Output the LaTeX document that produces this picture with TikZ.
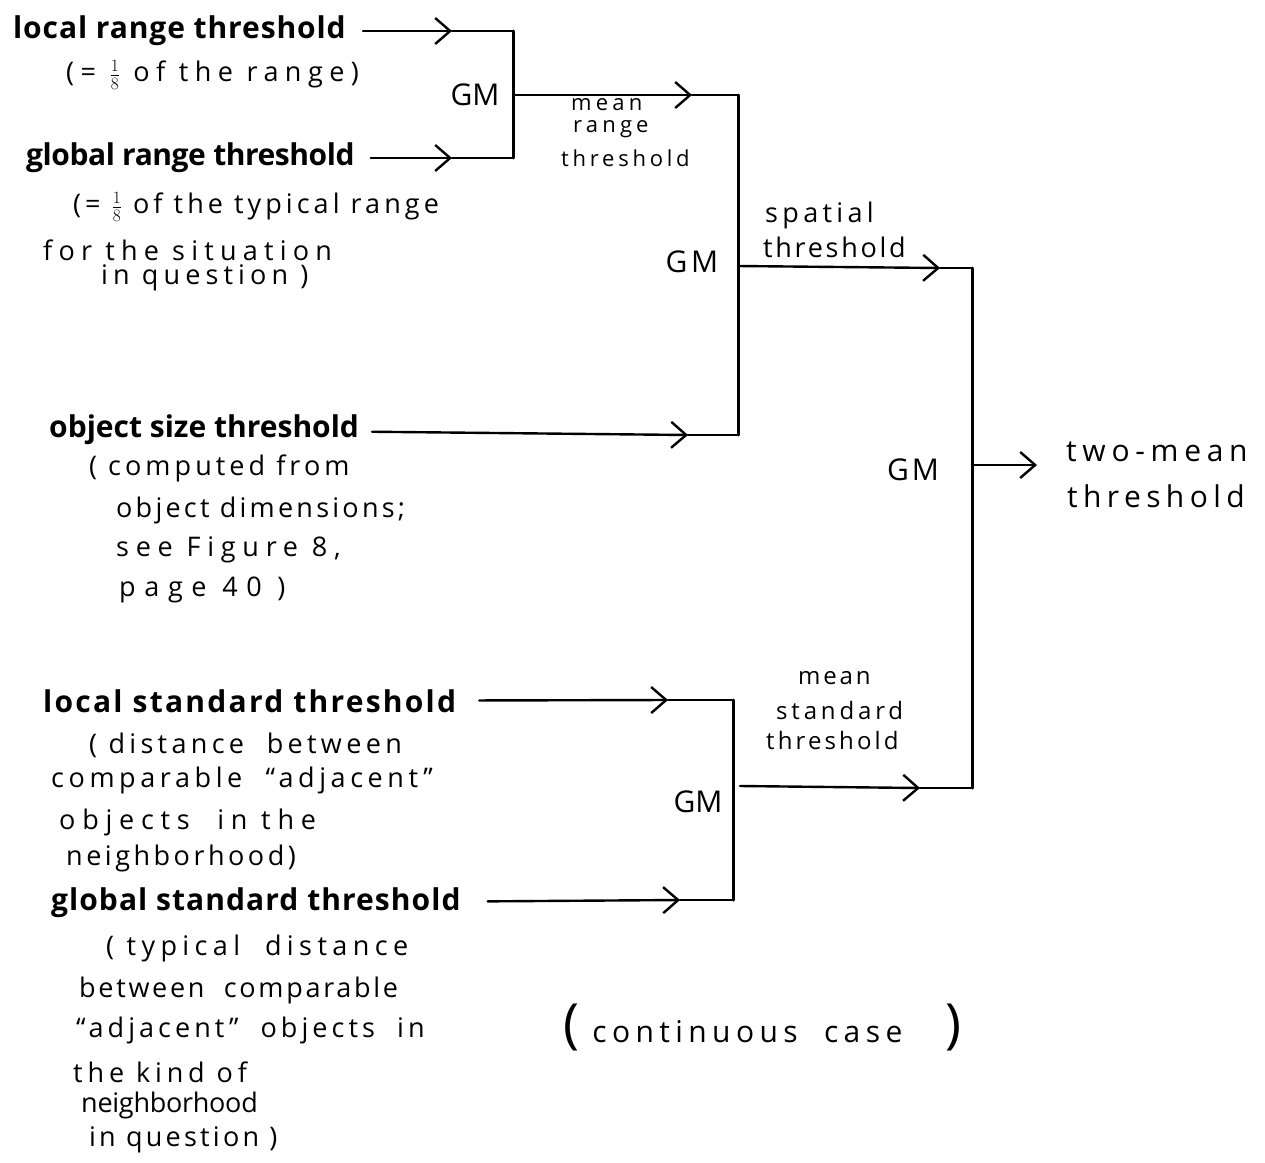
\documentclass[tikz,border=0pt]{standalone}
\usepackage{fontspec}
\setmainfont{Open Sans}
\usetikzlibrary{arrows.meta}
\begin{document}
\begin{tikzpicture}[x=1pt,y=-1pt,line width=2.4pt,line cap=round,
  mainlbl/.style={font=\fontsize{30}{30}\selectfont\bfseries\addfontfeature{LetterSpace=#1},anchor=west,inner sep=0pt},
  mainlbl/.default=0,
  sublbl/.style={font=\fontsize{27}{27}\selectfont\addfontfeature{LetterSpace=#1},anchor=west,inner sep=0pt},
  sublbl/.default=10,
  smalllbl/.style={font=\fontsize{22}{22}\selectfont\addfontfeature{LetterSpace=#1},anchor=west,inner sep=0pt},
  smalllbl/.default=16,
  medlbl/.style={font=\fontsize{24}{24}\selectfont\addfontfeature{LetterSpace=#1},anchor=west,inner sep=0pt},
  medlbl/.default=14,
  outlbl/.style={font=\fontsize{30}{30}\selectfont\addfontfeature{LetterSpace=#1},anchor=west,inner sep=0pt},
  outlbl/.default=18,
  gmlbl/.style={font=\fontsize{30}{30}\selectfont\addfontfeature{LetterSpace=#1},inner sep=0pt},
  gmlbl/.default=0,
  barb/.style={-{Straight Barb[length=15pt,width=26pt,line width=2.4pt]}},
  bar/.style={line width=3pt}]
\useasboundingbox (0,0) rectangle (1265,1162);

% ---- input labels ----
\node[mainlbl=3] (lrt) at (12,31) {local range threshold};
\node[sublbl=24] (lrt1) at (65,75) {(= $\frac{1}{8}$ of the range)};
\node[mainlbl=-1.5] (grt) at (25,158) {global range threshold};
\node[sublbl=15] (grt1) at (72,207) {(= $\frac{1}{8}$ of the typical range};
\node[sublbl=23] (grt2) at (42,250) {for the situation};
\node[sublbl=19] (grt3) at (100,278) {in question )};

\node[mainlbl=0] (ost) at (48,430) {object size threshold};
\node[sublbl=15] (ost1) at (88,468) {( computed from};
\node[sublbl=12] (ost2) at (115,510) {object dimensions;};
\node[sublbl=25] (ost3) at (115,550) {see Figure 8,};
\node[sublbl=32] (ost4) at (118,590) {page 40 )};

\node[mainlbl=7.5] (lst) at (42,701) {local standard threshold};
\node[sublbl=16] (lst1) at (88,745) {( distance \ between};
\node[sublbl=17] (lst2) at (50,780) {comparable \ “adjacent”};
\node[sublbl=25] (lst3) at (58,822) {objects \ in the};
\node[sublbl=13] (lst4) at (65,858) {neighborhood)};

\node[mainlbl=3.5] (gst) at (50,903) {global standard threshold};
\node[sublbl=20] (gst1) at (105,948) {( typical \ distance};
\node[sublbl=10] (gst2) at (78,990) {between \ comparable};
\node[sublbl=15] (gst3) at (75,1030) {“adjacent” \ objects \ in};
\node[sublbl=18] (gst4) at (72,1072) {the kind of};
\node[sublbl=-1] (gst5) at (80,1105) {neighborhood};
\node[sublbl=12] (gst6) at (88,1140) {in question )};

% ---- GM labels ----
\node[gmlbl] (gm1) at (475,95) {GM};
\node[gmlbl=12] (gm2) at (692,262) {GM};
\node[gmlbl=10] (gm3) at (913,470) {GM};
\node[gmlbl] (gm4) at (698,802) {GM};

% ---- intermediate labels ----
\node[smalllbl=19] (mr1) at (570,105) {mean};
\node[smalllbl=19] (mr2) at (572,129) {range};
\node[smalllbl=17] (mr3) at (560,158) {threshold};
\node[sublbl=16] (sp1) at (764,215) {spatial};
\node[sublbl=10] (sp2) at (762,247) {threshold};
\node[medlbl=12] (ms1) at (797,678) {mean};
\node[medlbl=16] (ms2) at (775,710) {standard};
\node[medlbl=13] (ms3) at (765,740) {threshold};

\node[outlbl=19] (tm1) at (1065,452) {two-mean};
\node[outlbl=18] (tm2) at (1066,496) {threshold};

\node[outlbl=18] (cc) at (562,1027) {{\fontsize{54}{54}\selectfont\addfontfeature{LetterSpace=0}(}\ continuous \ case \quad{\fontsize{54}{54}\selectfont\addfontfeature{LetterSpace=0})}};

% ---- junction coordinates ----
\coordinate (b1t) at (513,31);
\coordinate (b1m) at (513,95);
\coordinate (b1b) at (513,158);
\coordinate (b2t) at (738,95);
\coordinate (b2m) at (738,266);
\coordinate (b2b) at (738,435);
\coordinate (b3t) at (972,268);
\coordinate (b3m) at (972,465);
\coordinate (b3b) at (972,788);
\coordinate (b4t) at (733,700);
\coordinate (b4m) at (740,786);
\coordinate (b4b) at (733,900);
\coordinate (out) at (1037,465);
\coordinate (a1) at (452,31);
\coordinate (a2) at (452,158);
\coordinate (a3) at (692,95);
\coordinate (a4) at (688,435);
\coordinate (a5) at (940,268);
\coordinate (a6) at (668,700);
\coordinate (a7) at (680,900);
\coordinate (a8) at (920,788);

% ---- bars ----
\draw[bar] (b1t) -- (b1b);
\draw[bar] (b2t) -- (b2b);
\draw[bar] (b3t) -- (b3b);
\draw[bar] (b4t) -- (b4b);

% ---- connectors ----
\draw[barb,shorten <=16pt] (lrt) -- (a1);
\draw (a1) -- (b1t);
\draw[barb,shorten <=15pt] (grt) -- (a2);
\draw (a2) -- (b1b);
\draw[barb] (b1m) -- (a3);
\draw (a3) -- (b2t);
\draw[barb,shorten <=12pt] (ost) -- (a4);
\draw (a4) -- (b2b);
\draw[barb] (b2m) -- (a5);
\draw (a5) -- (b3t);
\draw[barb,shorten <=22pt] (lst) -- (a6);
\draw (a6) -- (b4t);
\draw[barb,shorten <=26pt] (gst) -- (a7);
\draw (a7) -- (b4b);
\draw[barb] (b4m) -- (a8);
\draw (a8) -- (b3b);
\draw[barb] (b3m) -- (out);
\end{tikzpicture}
\end{document}
